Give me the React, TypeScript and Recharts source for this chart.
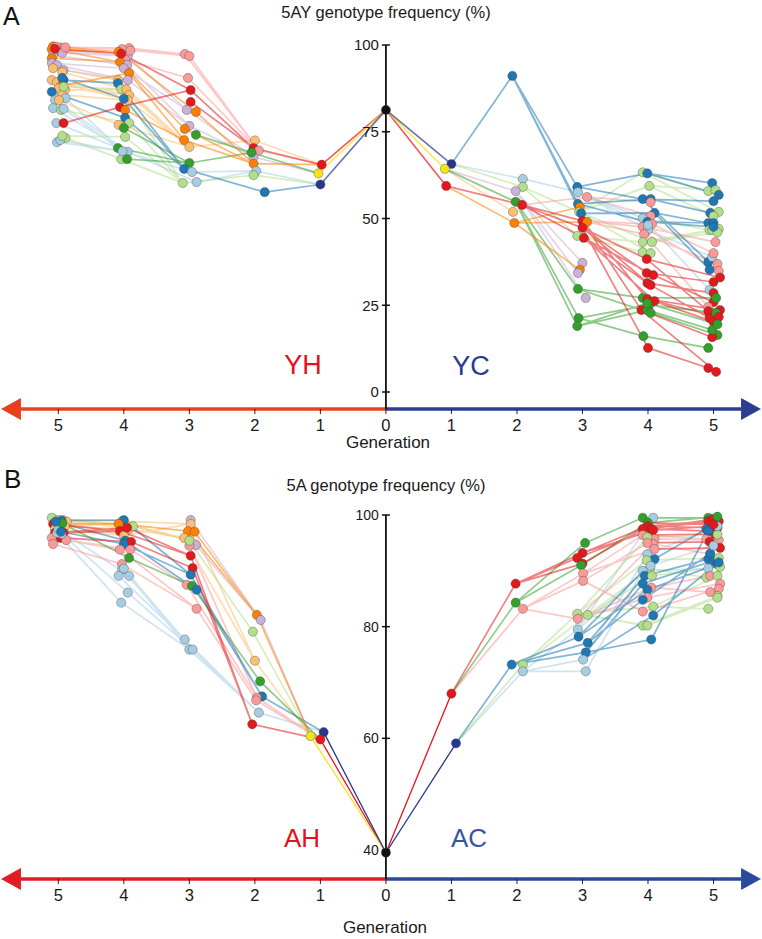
import { ComposedChart, Line, ReferenceDot, ReferenceLine, Scatter, XAxis, YAxis } from "recharts";

// [parent index in previous generation, generation, frequency %, colour key]
type Node = [number, number, number, string];

const COLORS: Record<string, string> = {
  lb: "#a6cee3",
  db: "#1f78b4",
  lg: "#b2df8a",
  dg: "#33a02c",
  pk: "#fb9a99",
  rd: "#e31a1c",
  lo: "#fdbf6f",
  or: "#ff7f00",
  lv: "#cab2d6",
  R1: "#e8141c",
  Y1: "#f5e31a",
  N1: "#27378f",
  K: "#111111",
};
const LINE_ORDER = ["lb", "lg", "lo", "lv", "pk", "db", "dg", "or", "rd", "R1", "Y1", "N1"];

const GEN_TICKS = [-5, -4, -3, -2, -1, 0, 1, 2, 3, 4, 5];
const X_DOMAIN: [number, number] = [-5.89, 5.74];
const A_Y_TICKS = [0, 25, 50, 75, 100];
const B_Y_TICKS = [40, 60, 80, 100];
const A_START = 81.3;
const B_START = 39.5;

// ---- 5AY, YH (left) ----
const yhG1: Node[] = [[0, 0.98, 65.5, "R1"], [0, 1.03, 63.0, "Y1"], [0, 1.0, 59.8, "N1"]];
const yhG2: Node[] = [
  [0, 2.0, 72.5, "lo"], [0, 2.02, 70.3, "rd"], [0, 1.94, 69.6, "pk"], [1, 2.02, 67.7, "lv"], [0, 2.02, 65.8, "or"],
  [2, 1.98, 63.7, "lb"], [2, 2.02, 62.5, "lg"], [2, 1.85, 57.6, "db"], [1, 2.05, 69.0, "dg"],
];
const yhG3: Node[] = [
  [2, 3.07, 97.4, "pk"], [2, 3.0, 96.8, "pk"], [2, 3.02, 90.5, "pk"], [1, 2.98, 87.0, "rd"], [1, 2.98, 83.6, "rd"],
  [3, 3.04, 81.3, "lv"], [4, 2.9, 80.7, "or"], [3, 3.0, 76.7, "lv"], [4, 3.07, 75.8, "or"], [8, 2.9, 74.1, "dg"],
  [4, 3.08, 72.6, "or"], [0, 3.0, 70.6, "lo"], [8, 3.0, 66.0, "dg"], [7, 3.08, 64.3, "db"], [5, 2.96, 63.4, "lb"],
  [6, 3.1, 60.2, "lg"], [5, 2.89, 60.5, "lb"],
];
const yhG4: Node[] = [
  [0, 3.92, 99.1, "pk"], [1, 4.03, 98.8, "pk"], [6, 4.08, 98.0, "or"], [5, 3.94, 96.8, "lv"], [2, 3.98, 95.8, "pk"],
  [8, 4.06, 95.1, "or"], [7, 3.95, 94.2, "lv"], [5, 4.0, 93.3, "lv"], [10, 3.92, 91.9, "or"], [7, 3.94, 89.9, "lv"],
  [11, 4.09, 89.9, "lo"], [13, 4.09, 89.0, "db"], [15, 4.04, 87.3, "lg"], [11, 3.96, 87.2, "lo"], [11, 3.92, 85.6, "lo"],
  [11, 3.94, 84.1, "lo"], [3, 4.06, 82.1, "rd"], [10, 3.98, 81.3, "or"], [13, 3.98, 79.0, "db"], [15, 3.92, 77.5, "lg"],
  [11, 4.08, 77.0, "lo"], [12, 4.0, 76.1, "dg"], [15, 3.98, 73.5, "lg"], [12, 4.09, 70.3, "dg"], [16, 3.94, 69.2, "lb"],
  [15, 4.04, 67.1, "lg"], [12, 3.95, 67.1, "dg"], [14, 4.02, 69.4, "lb"], [0, 3.9, 98.4, "pk"], [3, 4.04, 97.5, "rd"],
  [13, 4.0, 84.5, "db"],
];
const yhG5: Node[] = [
  [2, 5.08, 99.6, "or"], [0, 4.96, 99.3, "pk"], [2, 5.0, 98.6, "or"], [3, 4.94, 98.3, "lv"], [1, 5.03, 99.5, "pk"],
  [5, 5.1, 98.8, "or"], [6, 5.08, 97.1, "lv"], [3, 4.94, 97.7, "lv"], [5, 5.1, 96.2, "or"], [7, 5.1, 94.8, "lv"],
  [9, 5.02, 94.2, "lv"], [10, 5.08, 93.3, "lo"], [9, 4.92, 92.8, "lv"], [13, 4.94, 92.2, "lo"], [14, 5.1, 89.9, "lo"],
  [11, 4.92, 89.9, "db"], [15, 5.02, 89.3, "lo"], [8, 4.96, 88.2, "or"], [14, 4.99, 87.6, "lo"], [18, 5.1, 86.5, "db"],
  [13, 4.9, 87.0, "lo"], [15, 4.94, 85.6, "lo"], [24, 5.05, 84.1, "lb"], [27, 4.89, 84.7, "lb"], [20, 4.99, 84.1, "lo"],
  [24, 5.08, 81.8, "lb"], [19, 4.96, 81.3, "lg"], [27, 4.92, 81.6, "lb"], [24, 5.03, 77.5, "lb"], [16, 4.92, 77.5, "rd"],
  [24, 5.02, 72.0, "lb"], [25, 4.89, 73.2, "lg"], [27, 4.97, 72.6, "lb"], [22, 4.94, 73.8, "lg"], [29, 5.05, 98.9, "rd"],
  [30, 4.94, 90.5, "db"], [0, 4.89, 99.3, "pk"], [12, 4.92, 88.0, "lg"],
];

// ---- 5AY, YC (right) ----
const ycG1: Node[] = [[0, 1.0, 65.7, "N1"], [0, 0.9, 64.3, "Y1"], [0, 0.92, 59.4, "R1"]];
const ycG2: Node[] = [
  [0, 1.93, 91.1, "db"], [0, 2.09, 61.4, "lb"], [0, 2.09, 59.1, "lg"], [1, 1.98, 57.9, "lv"], [1, 1.98, 54.8, "dg"],
  [2, 2.08, 53.9, "rd"], [1, 1.94, 51.9, "lo"], [2, 1.96, 48.7, "or"],
];
const ycG3: Node[] = [
  [0, 2.92, 59.1, "db"], [1, 2.93, 57.6, "lb"], [5, 3.07, 56.2, "pk"], [0, 2.93, 54.2, "db"], [7, 2.96, 53.3, "or"],
  [2, 2.95, 51.9, "lg"], [0, 2.98, 51.5, "db"], [5, 3.0, 49.3, "rd"], [7, 3.07, 49.0, "or"], [5, 3.0, 47.3, "rd"],
  [2, 2.92, 45.0, "lg"], [5, 3.02, 44.4, "rd"], [3, 3.0, 37.2, "lv"], [7, 2.96, 35.2, "or"], [3, 2.93, 34.3, "lv"],
  [4, 2.93, 29.7, "dg"], [3, 3.05, 27.1, "lv"], [4, 2.94, 21.3, "dg"], [4, 2.92, 19.0, "dg"],
];
const ycG4: Node[] = [
  [5, 3.92, 63.3, "lg"], [0, 3.99, 63.0, "db"], [5, 4.02, 59.4, "lg"], [0, 3.92, 55.6, "db"], [3, 4.04, 55.6, "db"],
  [2, 4.04, 54.7, "pk"], [6, 4.1, 51.6, "db"], [2, 4.04, 50.7, "pk"], [1, 3.92, 50.1, "lb"], [3, 3.99, 49.0, "db"],
  [7, 3.92, 47.6, "pk"], [7, 4.06, 48.4, "pk"], [1, 4.0, 46.7, "lb"], [1, 4.0, 48.1, "lb"], [7, 3.94, 45.5, "pk"],
  [10, 3.92, 43.2, "lg"], [5, 4.06, 43.2, "lg"], [10, 3.92, 40.3, "lg"], [5, 4.04, 40.0, "lg"], [9, 3.98, 38.3, "rd"],
  [9, 3.98, 34.3, "rd"], [11, 4.08, 33.7, "rd"], [11, 3.99, 31.4, "rd"], [9, 4.04, 30.8, "rd"], [15, 3.92, 27.1, "dg"],
  [7, 3.99, 26.8, "rd"], [17, 4.02, 25.1, "dg"], [11, 4.1, 26.2, "rd"], [7, 3.9, 23.6, "rd"], [18, 3.99, 23.6, "dg"],
  [15, 4.04, 22.8, "dg"], [17, 3.93, 16.1, "dg"], [9, 4.0, 12.7, "rd"], [18, 3.99, 25.6, "dg"],
];
const ycG5: Node[] = [
  [1, 4.98, 60.2, "db"], [0, 4.92, 57.9, "lg"], [2, 5.03, 58.2, "lg"], [1, 5.08, 56.8, "db"], [3, 5.0, 55.0, "db"],
  [4, 4.95, 51.6, "db"], [0, 5.08, 51.9, "lg"], [2, 5.0, 50.7, "lg"], [6, 4.92, 48.7, "db"], [9, 5.0, 48.7, "db"],
  [8, 4.94, 46.7, "lg"], [16, 5.08, 47.0, "lg"], [10, 5.03, 43.2, "pk"], [15, 4.98, 46.7, "lg"], [16, 5.06, 46.0, "lg"],
  [9, 5.0, 47.6, "db"], [3, 4.92, 37.5, "db"], [12, 4.98, 38.9, "lb"], [14, 5.06, 36.9, "pk"], [6, 4.94, 35.2, "db"],
  [10, 5.08, 34.9, "pk"], [20, 5.0, 31.7, "rd"], [8, 4.94, 29.4, "lb"], [22, 5.0, 28.5, "rd"], [21, 5.0, 25.9, "rd"],
  [14, 4.92, 24.5, "pk"], [25, 5.1, 23.6, "rd"], [19, 4.92, 23.3, "rd"], [23, 4.94, 21.3, "rd"], [26, 5.04, 22.8, "dg"],
  [27, 5.0, 20.2, "rd"], [30, 5.06, 16.4, "dg"], [28, 4.98, 15.8, "rd"], [31, 4.92, 12.7, "dg"], [32, 4.92, 6.9, "rd"],
  [28, 5.04, 5.8, "rd"], [29, 4.98, 17.9, "dg"], [25, 5.08, 21.6, "rd"], [24, 5.04, 27.1, "dg"], [11, 5.0, 40.0, "pk"],
  [33, 5.06, 19.5, "dg"], [19, 5.1, 33.0, "rd"],
];

// ---- 5A, AH (left) ----
const ahG1: Node[] = [[0, 0.95, 61.1, "N1"], [0, 1.0, 59.8, "R1"], [0, 1.15, 60.4, "Y1"]];
const ahG2: Node[] = [
  [2, 1.97, 82.1, "or"], [2, 1.91, 81.2, "lv"], [2, 2.03, 79.1, "lg"], [2, 2.0, 73.9, "lo"], [1, 1.92, 70.2, "dg"],
  [0, 1.89, 67.5, "db"], [1, 1.97, 67.3, "pk"], [0, 1.94, 64.6, "lb"], [1, 2.04, 62.5, "rd"], [1, 1.98, 66.8, "pk"],
];
const ahG3: Node[] = [
  [1, 2.98, 99.1, "lv"], [3, 2.98, 98.4, "lo"], [0, 3.02, 97.1, "or"], [0, 2.92, 97.0, "or"], [3, 3.08, 95.9, "lo"],
  [1, 2.9, 94.6, "lv"], [6, 3.0, 94.5, "pk"], [8, 2.98, 92.7, "rd"], [8, 2.95, 90.5, "rd"], [5, 2.98, 89.3, "db"],
  [6, 3.04, 87.5, "pk"], [4, 2.96, 87.3, "dg"], [5, 2.89, 86.6, "db"], [9, 2.89, 83.2, "pk"], [7, 3.07, 77.7, "lb"],
  [7, 3.0, 75.9, "lb"], [7, 2.95, 75.9, "lb"], [2, 3.0, 95.4, "lg"],
];
const ahG4: Node[] = [
  [1, 4.03, 98.9, "lo"], [4, 3.98, 98.4, "lo"], [9, 4.0, 99.1, "db"], [2, 4.08, 98.4, "or"], [4, 3.92, 97.5, "lo"],
  [17, 3.86, 98.0, "lg"], [7, 4.06, 97.1, "rd"], [1, 4.0, 96.3, "lo"], [12, 3.98, 95.4, "db"], [8, 3.89, 95.2, "rd"],
  [9, 4.0, 94.8, "db"], [10, 3.9, 93.8, "pk"], [13, 4.06, 93.8, "pk"], [11, 3.92, 92.3, "dg"], [13, 4.03, 91.2, "pk"],
  [14, 4.03, 90.2, "lb"], [14, 4.08, 89.1, "lb"], [15, 3.92, 89.1, "lb"], [16, 3.94, 86.1, "lb"], [15, 4.04, 84.3, "lb"],
  [16, 4.0, 90.4, "lb"], [7, 3.95, 97.7, "rd"],
];
const ahG5: Node[] = [
  [0, 5.08, 99.3, "lo"], [1, 5.0, 99.1, "lo"], [4, 4.93, 99.1, "lo"], [7, 4.87, 98.8, "lo"], [5, 5.1, 99.5, "lg"],
  [3, 5.02, 98.4, "or"], [1, 4.97, 98.0, "lo"], [4, 4.9, 97.9, "lo"], [6, 5.08, 98.4, "rd"], [2, 4.95, 99.0, "db"],
  [7, 5.05, 97.5, "lo"], [21, 5.05, 96.8, "rd"], [9, 4.97, 95.9, "rd"], [6, 4.92, 96.8, "rd"], [11, 5.1, 95.9, "pk"],
  [12, 4.88, 95.5, "pk"], [14, 5.08, 94.8, "pk"], [18, 4.95, 96.6, "lb"], [19, 5.02, 96.8, "lb"], [17, 5.0, 97.5, "lb"],
  [13, 4.94, 98.5, "dg"], [10, 4.96, 97.0, "db"], [8, 5.04, 98.8, "db"],
];

// ---- 5A, AC (right) ----
const acG1: Node[] = [[0, 1.0, 68.0, "R1"], [0, 1.07, 59.1, "N1"]];
const acG2: Node[] = [
  [0, 1.98, 87.7, "rd"], [0, 1.98, 84.3, "dg"], [0, 2.09, 83.2, "pk"], [1, 1.92, 73.2, "db"], [1, 2.09, 73.2, "lg"],
  [1, 2.09, 72.0, "lb"],
];
const acG3: Node[] = [
  [1, 3.04, 95.0, "dg"], [0, 3.0, 93.2, "rd"], [0, 2.92, 92.3, "rd"], [0, 3.0, 91.3, "rd"], [1, 2.98, 91.0, "dg"],
  [2, 3.01, 89.5, "pk"], [2, 3.01, 88.2, "pk"], [4, 2.92, 82.3, "lg"], [4, 3.08, 82.1, "lg"], [2, 2.93, 81.4, "pk"],
  [5, 2.93, 79.5, "lb"], [3, 2.94, 78.2, "db"], [3, 3.08, 77.1, "db"], [3, 3.05, 75.4, "db"], [5, 3.01, 74.1, "lb"],
  [5, 3.05, 72.0, "lb"],
];
const acG4: Node[] = [
  [0, 3.92, 99.5, "dg"], [10, 4.08, 99.5, "lb"], [4, 4.0, 98.6, "dg"], [1, 3.99, 98.0, "rd"], [2, 4.05, 97.5, "rd"],
  [3, 3.92, 97.5, "rd"], [1, 4.08, 97.3, "rd"], [5, 3.92, 96.4, "pk"], [6, 4.1, 95.7, "pk"], [9, 4.08, 94.8, "pk"],
  [7, 3.99, 96.0, "lg"], [6, 3.99, 95.0, "pk"], [5, 4.1, 93.9, "pk"], [14, 3.99, 93.0, "lb"], [11, 4.1, 92.1, "db"],
  [7, 3.98, 91.9, "lg"], [8, 4.03, 90.4, "lg"], [15, 3.92, 90.0, "lb"], [12, 3.95, 89.1, "db"], [8, 4.06, 89.1, "lg"],
  [13, 3.92, 87.7, "db"], [9, 4.05, 87.0, "pk"], [11, 3.99, 86.6, "db"], [9, 3.99, 85.2, "pk"], [12, 3.92, 84.8, "db"],
  [7, 4.08, 83.6, "lg"], [6, 3.92, 82.7, "pk"], [14, 4.08, 82.0, "db"], [8, 3.92, 80.2, "lg"], [7, 3.99, 80.2, "lg"],
  [13, 4.05, 77.7, "db"], [10, 4.04, 90.9, "lb"],
];
const acG5: Node[] = [
  [0, 4.92, 99.5, "dg"], [3, 4.92, 98.9, "rd"], [4, 5.0, 99.3, "rd"], [5, 5.08, 98.9, "rd"], [2, 5.06, 99.7, "dg"],
  [6, 4.99, 98.0, "rd"], [3, 5.06, 97.7, "rd"], [4, 4.92, 97.1, "rd"], [14, 4.89, 97.5, "db"], [7, 5.02, 96.6, "rd"],
  [7, 4.89, 95.7, "pk"], [11, 4.94, 95.2, "rd"], [8, 5.08, 95.5, "pk"], [12, 5.1, 94.1, "rd"], [10, 5.06, 96.5, "lg"],
  [9, 4.95, 93.0, "pk"], [18, 4.92, 92.1, "db"], [20, 5.0, 91.8, "db"], [15, 5.08, 92.3, "lg"], [22, 5.06, 91.2, "db"],
  [19, 5.1, 90.7, "lg"], [17, 4.92, 90.4, "lb"], [16, 4.89, 88.8, "lg"], [21, 4.95, 89.1, "pk"], [25, 5.06, 89.1, "lg"],
  [23, 5.1, 87.7, "pk"], [26, 5.08, 86.8, "pk"], [28, 5.06, 85.5, "lg"], [21, 4.95, 86.2, "pk"], [29, 5.06, 85.2, "lg"],
  [25, 4.92, 83.2, "lg"], [24, 4.95, 93.1, "db"], [27, 5.08, 91.5, "db"], [30, 4.92, 97.2, "db"], [13, 5.06, 98.0, "lb"],
  [31, 5.0, 94.5, "lb"], [2, 5.0, 98.3, "rd"],
];

type Pt = { x: number; y: number | null };
type Dot = { x: number; y: number; c: string };

function buildSide(start: number, gens: Node[][], sign: number) {
  const lines: Record<string, Pt[]> = {};
  const dots: Dot[] = [];
  let prev = [{ g: 0, v: start }];
  gens.forEach((gen) => {
    prev = gen.map(([p, g, v, c]) => {
      const from = prev[p];
      if (!lines[c]) lines[c] = [];
      lines[c].push({ x: sign * from.g, y: from.v }, { x: sign * g, y: v }, { x: sign * g, y: null });
      dots.push({ x: sign * g, y: v, c });
      return { g, v };
    });
  });
  return { lines, dots };
}

const FONT = "'Liberation Sans', Arial, sans-serif";

const dotShape = (p: any) => (
  <circle
    cx={p.cx}
    cy={p.cy}
    r={4.6}
    fill={COLORS[p.payload.c]}
    stroke="#3a3a3a"
    strokeOpacity={0.6}
    strokeWidth={0.6}
  />
);

type PanelProps = {
  start: number;
  left: Node[][];
  right: Node[][];
  yDomain: [number, number];
  yTicks: number[];
  leftColor: string;
  rightColor: string;
  tickFont: number;
  gen1Opacity: number;
  gen1Width: number;
};

function Panel({ start, left, right, yDomain, yTicks, leftColor, rightColor, tickFont, gen1Opacity, gen1Width }: PanelProps) {
  const l = buildSide(start, left, -1);
  const r = buildSide(start, right, 1);
  const yMin = yDomain[0];
  const allDots: Dot[] = [...l.dots, ...r.dots, { x: 0, y: start, c: "K" }];

  const seriesLines = (side: { lines: Record<string, Pt[]> }, key: string) =>
    LINE_ORDER.filter((c) => side.lines[c]).map((c) => {
      const first = c === "R1" || c === "Y1" || c === "N1";
      return (
        <Line
          key={key + c}
          data={side.lines[c]}
          dataKey="y"
          stroke={COLORS[c]}
          strokeOpacity={first ? gen1Opacity : 0.55}
          strokeWidth={first ? gen1Width : 1.7}
          dot={false}
          activeDot={false}
          connectNulls={false}
          isAnimationActive={false}
          legendType="none"
        />
      );
    });

  return (
    <ComposedChart width={762} height={439} margin={{ top: 45, right: 0, bottom: 0, left: 0 }}>
      <XAxis
        type="number"
        dataKey="x"
        domain={X_DOMAIN}
        ticks={GEN_TICKS}
        interval={0}
        tickFormatter={(v: number) => String(Math.abs(v))}
        axisLine={false}
        tickLine={{ stroke: "#222" }}
        tickSize={5}
        tickMargin={5}
        tick={{ fill: "#1a1a1a", fontSize: 16.5, fontFamily: FONT }}
        height={30}
      />
      <YAxis type="number" dataKey="y" domain={yDomain} hide />
      <ReferenceLine
        segment={[{ x: -5.57, y: yMin }, { x: 0, y: yMin }]}
        stroke={leftColor}
        strokeWidth={3.5}
        ifOverflow="visible"
      />
      <ReferenceLine
        segment={[{ x: 0, y: yMin }, { x: 5.42, y: yMin }]}
        stroke={rightColor}
        strokeWidth={3.5}
        ifOverflow="visible"
      />
      <ReferenceDot
        x={-5.57}
        y={yMin}
        ifOverflow="visible"
        shape={(p: any) => (
          <polygon points={`${p.cx},${p.cy - 11} ${p.cx - 20},${p.cy} ${p.cx},${p.cy + 11}`} fill={leftColor} />
        )}
      />
      <ReferenceDot
        x={5.42}
        y={yMin}
        ifOverflow="visible"
        shape={(p: any) => (
          <polygon points={`${p.cx},${p.cy - 11} ${p.cx + 20},${p.cy} ${p.cx},${p.cy + 11}`} fill={rightColor} />
        )}
      />
      <ReferenceLine
        segment={[{ x: 0, y: yMin }, { x: 0, y: 100 }]}
        stroke="#111"
        strokeWidth={1.8}
        ifOverflow="visible"
      />
      {yTicks.map((t) => (
        <ReferenceDot
          key={"yt" + t}
          x={0}
          y={t}
          ifOverflow="visible"
          shape={(p: any) => (
            <g>
              <line x1={p.cx - 4} x2={p.cx + 4} y1={p.cy} y2={p.cy} stroke="#111" strokeWidth={1.5} />
              <text
                x={p.cx - 7}
                y={p.cy}
                dy="0.36em"
                textAnchor="end"
                fontSize={tickFont}
                fontFamily={FONT}
                fill="#1a1a1a"
              >
                {t}
              </text>
            </g>
          )}
        />
      ))}
      {seriesLines(l, "l")}
      {seriesLines(r, "r")}
      <Scatter data={allDots} dataKey="y" shape={dotShape} isAnimationActive={false} legendType="none" />
    </ComposedChart>
  );
}

const txt = (left: number, top: number, size: number, color: string, content: string, center = false) => (
  <div
    style={{
      position: "absolute",
      left: center ? left - 200 : left,
      width: center ? 400 : undefined,
      textAlign: center ? "center" : "left",
      top,
      fontSize: size,
      lineHeight: 1,
      color,
      fontFamily: FONT,
      whiteSpace: "nowrap",
    }}
  >
    {content}
  </div>
);

export default function App() {
  return (
    <div style={{ position: "relative", width: 762, height: 939, background: "#fff", overflow: "hidden" }}>
      <style>{"body{margin:0}"}</style>
      <div style={{ position: "absolute", left: 0, top: 0 }}>
        <Panel
          start={A_START}
          left={[yhG1, yhG2, yhG3, yhG4, yhG5]}
          right={[ycG1, ycG2, ycG3, ycG4, ycG5]}
          yDomain={[-4.9, 100]}
          yTicks={A_Y_TICKS}
          leftColor="#e8401c"
          rightColor="#2e3d8f"
          tickFont={15}
          gen1Opacity={0.7}
          gen1Width={1.6}
        />
      </div>
      <div style={{ position: "absolute", left: 0, top: 470 }}>
        <Panel
          start={B_START}
          left={[ahG1, ahG2, ahG3, ahG4, ahG5]}
          right={[acG1, acG2, acG3, acG4, acG5]}
          yDomain={[34.8, 100]}
          yTicks={B_Y_TICKS}
          leftColor="#e21c23"
          rightColor="#2b4a9b"
          tickFont={14}
          gen1Opacity={1}
          gen1Width={1.3}
        />
      </div>
      {txt(3, 4, 25, "#111", "A")}
      {txt(386, 3.5, 16.5, "#1a1a1a", "5AY genotype frequency (%)", true)}
      {txt(303, 352, 27, "#e8101a", "YH", true)}
      {txt(471, 353, 27, "#2b3990", "YC", true)}
      {txt(388, 434, 17, "#1a1a1a", "Generation", true)}
      {txt(4, 466, 26, "#111", "B")}
      {txt(386, 476.5, 16.5, "#1a1a1a", "5A genotype frequency (%)", true)}
      {txt(302, 825, 26, "#e8101a", "AH", true)}
      {txt(469, 825, 26, "#3a54a4", "AC", true)}
      {txt(385, 919, 17, "#1a1a1a", "Generation", true)}
    </div>
  );
}
